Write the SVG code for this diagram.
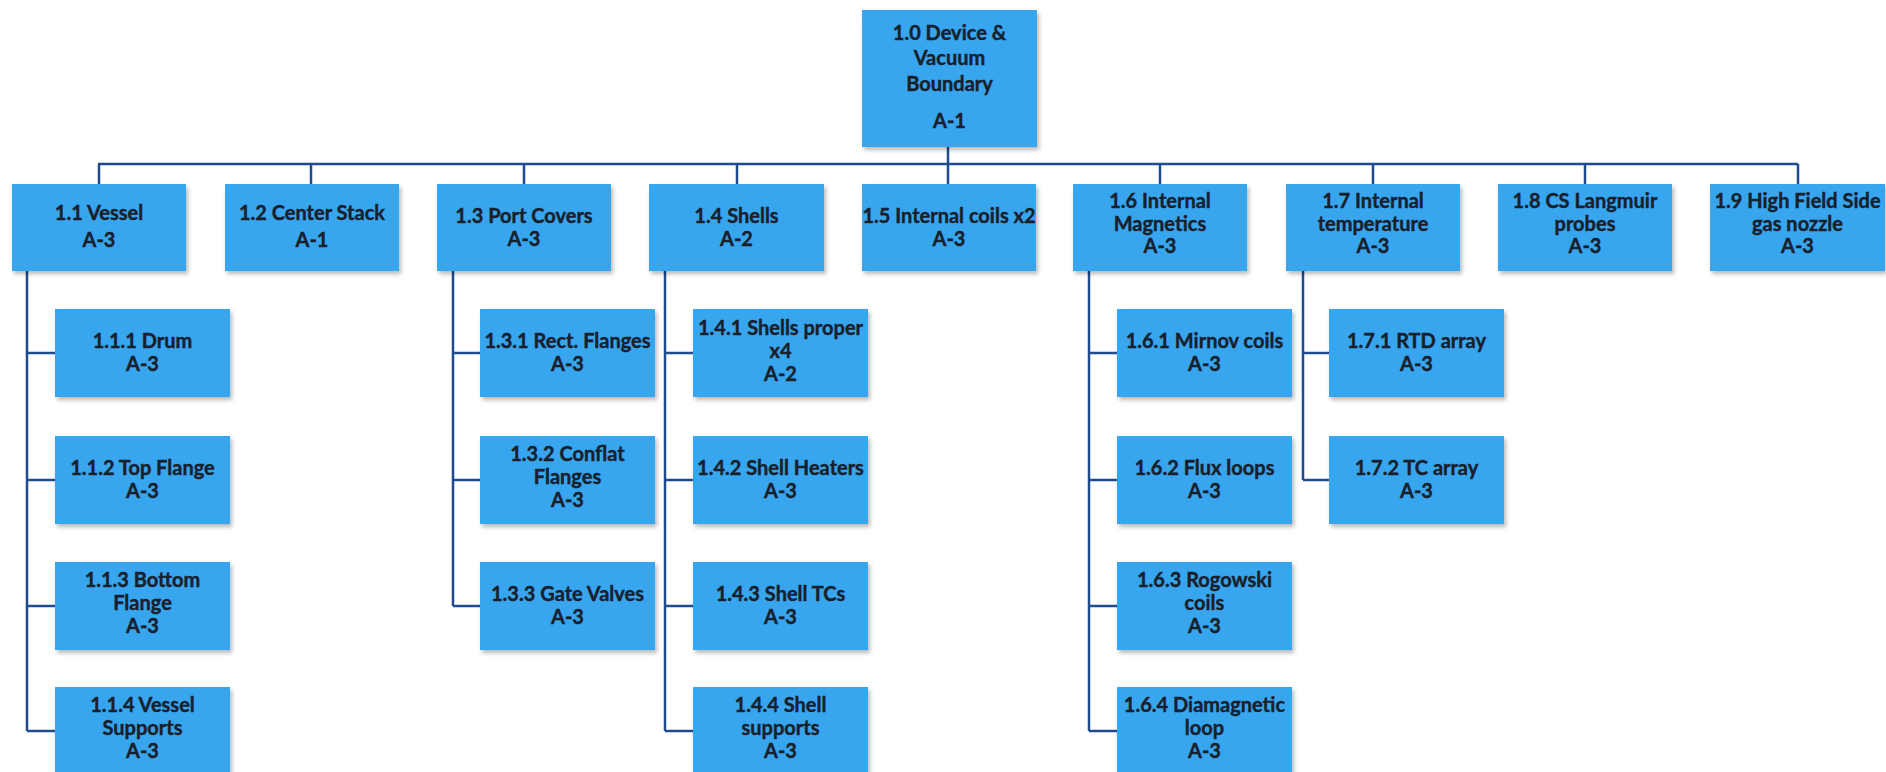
<svg xmlns="http://www.w3.org/2000/svg" width="1886" height="772" viewBox="0 0 1886 772">
<defs>
<filter id="sh" x="-10%" y="-10%" width="125%" height="130%">
<feDropShadow dx="2" dy="3" stdDeviation="2" flood-color="#000" flood-opacity="0.28"/>
</filter>
<style>
.box{fill:#38A6EF;filter:url(#sh)}
.t{font-family:Lato,"Liberation Sans",sans-serif;font-weight:700;font-size:20px;fill:#18202C;stroke:#18202C;stroke-width:0.4;text-anchor:middle}
.c{stroke:#1F4C8E;stroke-width:2.5;fill:none}
</style>
</defs>
<rect width="1886" height="772" fill="#ffffff"/>
<g id="connectors">
<path class="c" d="M948 147V164M98 164H1798"/>
<path class="c" d="M99 164V184M311 164V184M524 164V184M737 164V184M948 164V184M1160 164V184M1373 164V184M1585 164V184M1798 164V184"/>
<path class="c" d="M27 271V731M27 353H55M27 480H55M27 606H55M27 731H55"/>
<path class="c" d="M453 271V606M453 353H480M453 480H480M453 606H480"/>
<path class="c" d="M665 271V731M665 353H693M665 480H693M665 606H693M665 731H693"/>
<path class="c" d="M1089 271V731M1089 353H1117M1089 480H1117M1089 606H1117M1089 731H1117"/>
<path class="c" d="M1303 271V480M1303 353H1329M1303 480H1329"/>
</g>
<g id="n1_0"><rect class="box" x="862" y="10" width="175" height="137"/><text class="t" x="949.5"><tspan x="949.5" y="40">1.0 Device &amp;</tspan><tspan x="949.5" y="65">Vacuum</tspan><tspan x="949.5" y="91">Boundary</tspan><tspan x="949.5" y="128">A-1</tspan></text></g>
<g id="n1_1"><rect class="box" x="12" y="184" width="174" height="87"/><text class="t"><tspan x="99" y="220">1.1 Vessel</tspan><tspan x="99" y="247">A-3</tspan></text></g>
<g id="n1_2"><rect class="box" x="225" y="184" width="174" height="87"/><text class="t"><tspan x="312" y="220">1.2 Center Stack</tspan><tspan x="312" y="247">A-1</tspan></text></g>
<g id="n1_3"><rect class="box" x="437" y="184" width="174" height="87"/><text class="t"><tspan x="524" y="223">1.3 Port Covers</tspan><tspan x="524" y="246">A-3</tspan></text></g>
<g id="n1_4"><rect class="box" x="649" y="184" width="175" height="87"/><text class="t"><tspan x="736.5" y="223">1.4 Shells</tspan><tspan x="736.5" y="246">A-2</tspan></text></g>
<g id="n1_5"><rect class="box" x="862" y="184" width="174" height="87"/><text class="t"><tspan x="949" y="223">1.5 Internal coils x2</tspan><tspan x="949" y="246">A-3</tspan></text></g>
<g id="n1_6"><rect class="box" x="1073" y="184" width="174" height="87"/><text class="t"><tspan x="1160" y="208">1.6 Internal</tspan><tspan x="1160" y="230.5">Magnetics</tspan><tspan x="1160" y="253">A-3</tspan></text></g>
<g id="n1_7"><rect class="box" x="1286" y="184" width="174" height="87"/><text class="t"><tspan x="1373" y="208">1.7 Internal</tspan><tspan x="1373" y="230.5">temperature</tspan><tspan x="1373" y="253">A-3</tspan></text></g>
<g id="n1_8"><rect class="box" x="1498" y="184" width="174" height="87"/><text class="t"><tspan x="1585" y="208">1.8 CS Langmuir</tspan><tspan x="1585" y="230.5">probes</tspan><tspan x="1585" y="253">A-3</tspan></text></g>
<g id="n1_9"><rect class="box" x="1710" y="184" width="175" height="87"/><text class="t"><tspan x="1797.5" y="208">1.9 High Field Side</tspan><tspan x="1797.5" y="230.5">gas nozzle</tspan><tspan x="1797.5" y="253">A-3</tspan></text></g>
<g id="n1_1_1"><rect class="box" x="55" y="309" width="175" height="88"/><text class="t"><tspan x="142.5" y="348">1.1.1 Drum</tspan><tspan x="142.5" y="371">A-3</tspan></text></g>
<g id="n1_1_2"><rect class="box" x="55" y="436" width="175" height="88"/><text class="t"><tspan x="142.5" y="475">1.1.2 Top Flange</tspan><tspan x="142.5" y="498">A-3</tspan></text></g>
<g id="n1_1_3"><rect class="box" x="55" y="562" width="175" height="88"/><text class="t"><tspan x="142.5" y="587">1.1.3 Bottom</tspan><tspan x="142.5" y="610">Flange</tspan><tspan x="142.5" y="633">A-3</tspan></text></g>
<g id="n1_1_4"><rect class="box" x="55" y="687" width="175" height="88"/><text class="t"><tspan x="142.5" y="712">1.1.4 Vessel</tspan><tspan x="142.5" y="735">Supports</tspan><tspan x="142.5" y="758">A-3</tspan></text></g>
<g id="n1_3_1"><rect class="box" x="480" y="309" width="175" height="88"/><text class="t"><tspan x="567.5" y="348">1.3.1 Rect. Flanges</tspan><tspan x="567.5" y="371">A-3</tspan></text></g>
<g id="n1_3_2"><rect class="box" x="480" y="436" width="175" height="88"/><text class="t"><tspan x="567.5" y="461">1.3.2 Conflat</tspan><tspan x="567.5" y="484">Flanges</tspan><tspan x="567.5" y="507">A-3</tspan></text></g>
<g id="n1_3_3"><rect class="box" x="480" y="562" width="175" height="88"/><text class="t"><tspan x="567.5" y="601">1.3.3 Gate Valves</tspan><tspan x="567.5" y="624">A-3</tspan></text></g>
<g id="n1_4_1"><rect class="box" x="693" y="309" width="175" height="88"/><text class="t"><tspan x="780.5" y="335">1.4.1 Shells proper</tspan><tspan x="780.5" y="358">x4</tspan><tspan x="780.5" y="381">A-2</tspan></text></g>
<g id="n1_4_2"><rect class="box" x="693" y="436" width="175" height="88"/><text class="t"><tspan x="780.5" y="475">1.4.2 Shell Heaters</tspan><tspan x="780.5" y="498">A-3</tspan></text></g>
<g id="n1_4_3"><rect class="box" x="693" y="562" width="175" height="88"/><text class="t"><tspan x="780.5" y="601">1.4.3 Shell TCs</tspan><tspan x="780.5" y="624">A-3</tspan></text></g>
<g id="n1_4_4"><rect class="box" x="693" y="687" width="175" height="88"/><text class="t"><tspan x="780.5" y="712">1.4.4 Shell</tspan><tspan x="780.5" y="735">supports</tspan><tspan x="780.5" y="758">A-3</tspan></text></g>
<g id="n1_6_1"><rect class="box" x="1117" y="309" width="175" height="88"/><text class="t"><tspan x="1204.5" y="348">1.6.1 Mirnov coils</tspan><tspan x="1204.5" y="371">A-3</tspan></text></g>
<g id="n1_6_2"><rect class="box" x="1117" y="436" width="175" height="88"/><text class="t"><tspan x="1204.5" y="475">1.6.2 Flux loops</tspan><tspan x="1204.5" y="498">A-3</tspan></text></g>
<g id="n1_6_3"><rect class="box" x="1117" y="562" width="175" height="88"/><text class="t"><tspan x="1204.5" y="587">1.6.3 Rogowski</tspan><tspan x="1204.5" y="610">coils</tspan><tspan x="1204.5" y="633">A-3</tspan></text></g>
<g id="n1_6_4"><rect class="box" x="1117" y="687" width="175" height="88"/><text class="t"><tspan x="1204.5" y="712">1.6.4 Diamagnetic</tspan><tspan x="1204.5" y="735">loop</tspan><tspan x="1204.5" y="758">A-3</tspan></text></g>
<g id="n1_7_1"><rect class="box" x="1329" y="309" width="175" height="88"/><text class="t"><tspan x="1416.5" y="348">1.7.1 RTD array</tspan><tspan x="1416.5" y="371">A-3</tspan></text></g>
<g id="n1_7_2"><rect class="box" x="1329" y="436" width="175" height="88"/><text class="t"><tspan x="1416.5" y="475">1.7.2 TC array</tspan><tspan x="1416.5" y="498">A-3</tspan></text></g>
</svg>
